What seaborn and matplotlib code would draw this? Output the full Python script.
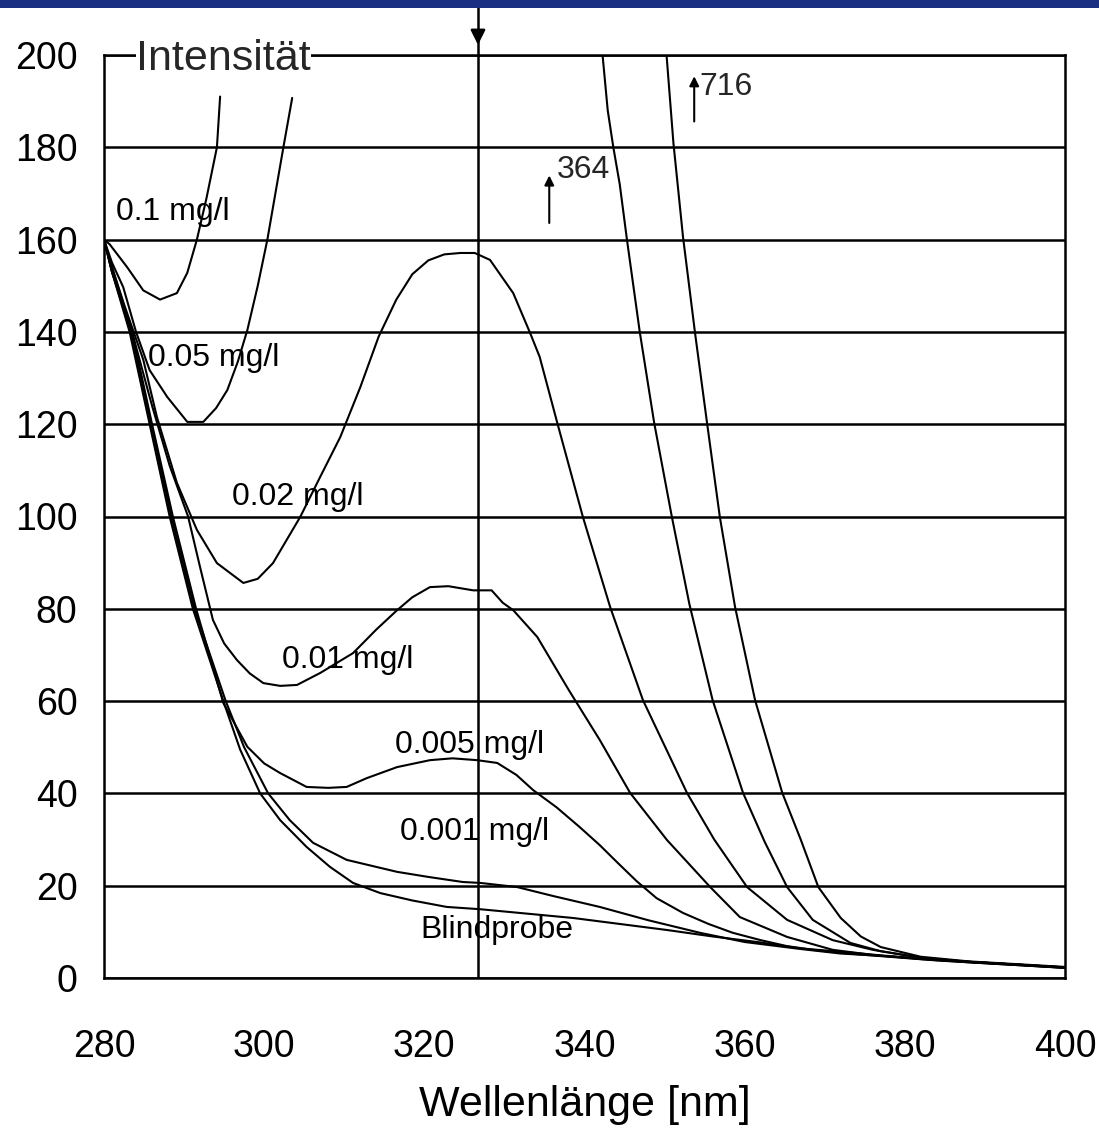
import matplotlib
matplotlib.use("Agg")
import matplotlib.pyplot as plt
from matplotlib.patches import Rectangle
import numpy as np
import pandas as pd
import seaborn as sns

# --- emission spectra (intensity vs. wavelength) ---------------------------
wl_blind = [280, 281, 283.2, 285.7, 288.2, 291.1, 294.9, 297, 299.5, 302, 305.3, 308.2, 311.1,
            314.5, 318.5, 322.8, 327, 332.5, 338.6, 344, 350.3, 356, 362, 367, 372, 377, 382,
            388, 394, 400]
int_blind = [160, 153, 140, 120, 100, 80, 60, 49.5, 40, 34.2, 28.4, 24.1, 20.6,
             18.4, 16.8, 15.4, 14.9, 14, 13, 11.8, 10.4, 9, 7.7, 6.4, 5.7, 4.9, 4.2,
             3.5, 2.9, 2.2]

wl_001 = [280, 281, 283.4, 285.9, 288.4, 291.3, 295.2, 297.5, 300.5, 303.2, 306.1, 310.3, 316.6,
          320.5, 324.8, 327, 331.6, 336, 341.9, 348, 354.4, 360, 366.9, 372, 377, 382, 388, 394, 400]
int_001 = [160, 153, 140, 120, 100, 80, 60, 50, 40, 34.2, 29.3, 25.6, 23,
           21.9, 20.8, 20.6, 19.7, 17.8, 15.4, 12.5, 9.8, 7.8, 6.3, 5.3, 4.8, 4.2, 3.5, 2.9, 2.3]

wl_005 = [280, 281, 283.5, 286, 288.6, 291.5, 294.9, 297.9, 300, 302, 305.3, 308, 310.3, 312.8,
          316.6, 320.7, 323.5, 326.6, 329.1, 331.5, 333.6, 336.5, 339.4, 341.9, 344, 346.5, 349,
          352.3, 355.5, 358.5, 362, 365.3, 369, 373, 378, 384, 390, 395, 400]
int_005 = [160, 153, 140, 120, 100, 80, 59.6, 50.1, 46.5, 44.4, 41.4, 41.2, 41.4, 43.3,
           45.7, 47.2, 47.6, 47.2, 46.6, 44, 40.7, 37, 32.7, 28.8, 25.2, 21, 17.3,
           14.1, 11.7, 9.8, 8.2, 6.9, 6, 5.3, 4.6, 3.8, 3.2, 2.7, 2.2]

wl_01 = [280, 281, 283.5, 286, 288.2, 290.5, 292, 293.6, 295, 296.6, 298.2, 299.9, 302, 304.1,
         307, 311.1, 314, 316.6, 318.5, 320.7, 323, 326.1, 328.4, 329.8, 331.1, 334.1, 338,
         341.9, 345.7, 350.3, 355.7, 359.4, 365.3, 371, 376, 382, 388, 394, 400]
int_01 = [160, 154, 140, 124, 111, 100, 89, 77.6, 72.5, 68.9, 66, 63.9, 63.3, 63.5,
          66.1, 70.4, 75.5, 79.7, 82.5, 84.7, 84.9, 84, 84, 81.3, 79.7, 73.9, 62.5,
          51.6, 40.1, 29.9, 19.7, 13.2, 8.9, 6.1, 5, 4.1, 3.4, 2.8, 2.2]

wl_02 = [280, 281, 282.5, 284.9, 286.6, 289.1, 291.6, 294.1, 297.4, 299.2, 301.1, 304.5, 307,
         309.5, 312, 314.3, 316.5, 318.5, 320.5, 322.5, 324.5, 326.3, 328.2, 331.1, 333.2, 334.4,
         336.6, 339.8, 343.2, 347.3, 352.8, 356.2, 360.3, 365.3, 371, 376, 382, 388, 394, 400]
int_02 = [160, 154, 146, 134, 121.6, 107.3, 97.1, 89.9, 85.6, 86.5, 89.9, 99.9, 108.6,
          117.2, 128, 139, 147, 152.5, 155.5, 156.8, 157.1, 157.1, 155.6, 148.4, 139.8, 134.6,
          120.3, 99.9, 80.4, 60.2, 40.1, 30, 19.7, 12.6, 8.2, 6.1, 4.4, 3.5, 2.9, 2.3]

# 0.05 mg/l and 0.1 mg/l run off scale; their maxima are 364 and 716
wl_05_up = [280, 281, 282.4, 284, 285.7, 287.9, 290.4, 292.4, 294, 295.4, 296.7, 297.9, 299.2,
            300.4, 301.4, 302.4, 303.5]
int_05_up = [160, 155, 149.7, 140, 131.7, 125.9, 120.5, 120.5, 123.5, 127.4, 133.5, 140.4, 150,
             160, 170, 180, 190.7]
wl_05_down = [326.7, 342.2, 342.9, 343.6, 344.4, 345.3, 346.9, 348.7, 350.9, 353.1, 356, 359.8,
              362.5, 365.3, 368.5, 373.2, 377, 382, 388, 394, 400]
int_05_down = [364, 201, 188, 180, 172, 160, 140, 120.3, 100, 81, 60.2, 40.1,
               29.5, 19.7, 12.6, 7.6, 5.8, 4.4, 3.5, 2.9, 2.3]

wl_1_up = [280, 280.7, 282.9, 284.9, 287, 289.1, 290.4, 291.6, 292.8, 294.1, 294.5]
int_1_up = [160, 159, 154, 149, 147, 148.4, 152.8, 160, 169, 180, 191]
wl_1_down = [326.7, 350.2, 351.1, 352.3, 353.8, 355.3, 356.9, 358.8, 361.3, 364.7, 367, 369.2,
             372, 374.5, 377, 382, 388, 394, 400]
int_1_down = [716, 201, 181, 160.6, 139.8, 120.3, 99.9, 80.4, 60.2, 40.1, 30, 19.7,
              13, 9, 6.7, 4.6, 3.6, 3, 2.4]

peak_wl = 326.7
peak_05 = 364
peak_1 = 716

x_ticks = [280, 300, 320, 340, 360, 380, 400]
y_ticks = list(range(0, 201, 20))

curve_labels = ["0.1 mg/l", "0.05 mg/l", "0.02 mg/l", "0.01 mg/l", "0.005 mg/l", "0.001 mg/l", "Blindprobe"]
label_x = [281.5, 285.5, 296.0, 302.2, 316.3, 317.0, 319.5]
label_y = [166, 134.3, 104.2, 68.9, 50.5, 31.6, 10.4]

# --- long-form table, one unit per drawn trace ------------------------------
traces = {
    "blind": (wl_blind, int_blind),
    "001": (wl_001, int_001),
    "005": (wl_005, int_005),
    "01": (wl_01, int_01),
    "02": (wl_02, int_02),
    "05a": (wl_05_up, int_05_up),
    "05b": (wl_05_down, int_05_down),
    "1a": (wl_1_up, int_1_up),
    "1b": (wl_1_down, int_1_down),
}
frames = [pd.DataFrame({"trace": k, "wl": w, "I": v}) for k, (w, v) in traces.items()]
df = pd.concat(frames, ignore_index=True)

sns.set_theme(style="white")
plt.rcParams["font.family"] = ["Liberation Sans", "DejaVu Sans"]

W, H = 1099, 1131
fig = plt.figure(figsize=(W / 100, H / 100), dpi=100)
fig.patch.set_facecolor("white")
ax = fig.add_axes([104 / W, 1 - 978 / H, (1065 - 104) / W, (978 - 55) / H])
ax.set_facecolor("white")

# top banner
fig.patches.append(Rectangle((0, 1 - 8 / H), 1, 8 / H, transform=fig.transFigure,
                             facecolor="#1a2f82", edgecolor="none", zorder=0))

sns.lineplot(data=df, x="wl", y="I", units="trace", estimator=None, sort=False,
             color="black", linewidth=1.5, ax=ax, legend=False)

ax.set_xlim(280, 400)
ax.set_ylim(0, 200)
ax.set_xticks(x_ticks)
ax.set_yticks(y_ticks)
ax.yaxis.grid(True, color="black", linewidth=1.8)
ax.xaxis.grid(False)
ax.set_axisbelow(True)
for s in ax.spines.values():
    s.set_color("black")
    s.set_linewidth(1.8)

ax.tick_params(axis="y", direction="out", length=9, width=1.5, pad=10, labelsize=27, colors="black")
ax.tick_params(axis="x", direction="out", length=10, width=1.5, pad=27, labelsize=27, colors="black")
ax.set_xlabel("Wellenlänge [nm]", fontsize=31, labelpad=14, color="black")
ax.set_ylabel("")

# marked excitation wavelength
ax.axvline(peak_wl, color="black", linewidth=1.8, zorder=1)
ax.plot([peak_wl, peak_wl], [200, 210.5], color="black", linewidth=1.8, clip_on=False)
ax.annotate("", xy=(peak_wl, 201.6), xytext=(peak_wl, 206),
            arrowprops=dict(arrowstyle="-|>", color="black", lw=1.8, mutation_scale=22),
            annotation_clip=False)

ax.text(284.0, 199.2, "Intensität", fontsize=31, va="center", ha="left",
        bbox=dict(facecolor="white", edgecolor="none", pad=0), zorder=5, clip_on=False)

for t, x, y in zip(curve_labels, label_x, label_y):
    ax.text(x, y, t, fontsize=23, va="center", ha="left", color="black", zorder=4)

# off-scale maxima
ax.annotate("", xy=(335.6, 174.5), xytext=(335.6, 163),
            arrowprops=dict(arrowstyle="-|>", color="black", lw=1.5, mutation_scale=14))
ax.text(336.6, 175, str(peak_05), fontsize=23, va="center", ha="left")
ax.annotate("", xy=(353.7, 196), xytext=(353.7, 185),
            arrowprops=dict(arrowstyle="-|>", color="black", lw=1.5, mutation_scale=14))
ax.text(354.4, 193, str(peak_1), fontsize=23, va="center", ha="left")

fig.savefig("out.png", dpi=100)
